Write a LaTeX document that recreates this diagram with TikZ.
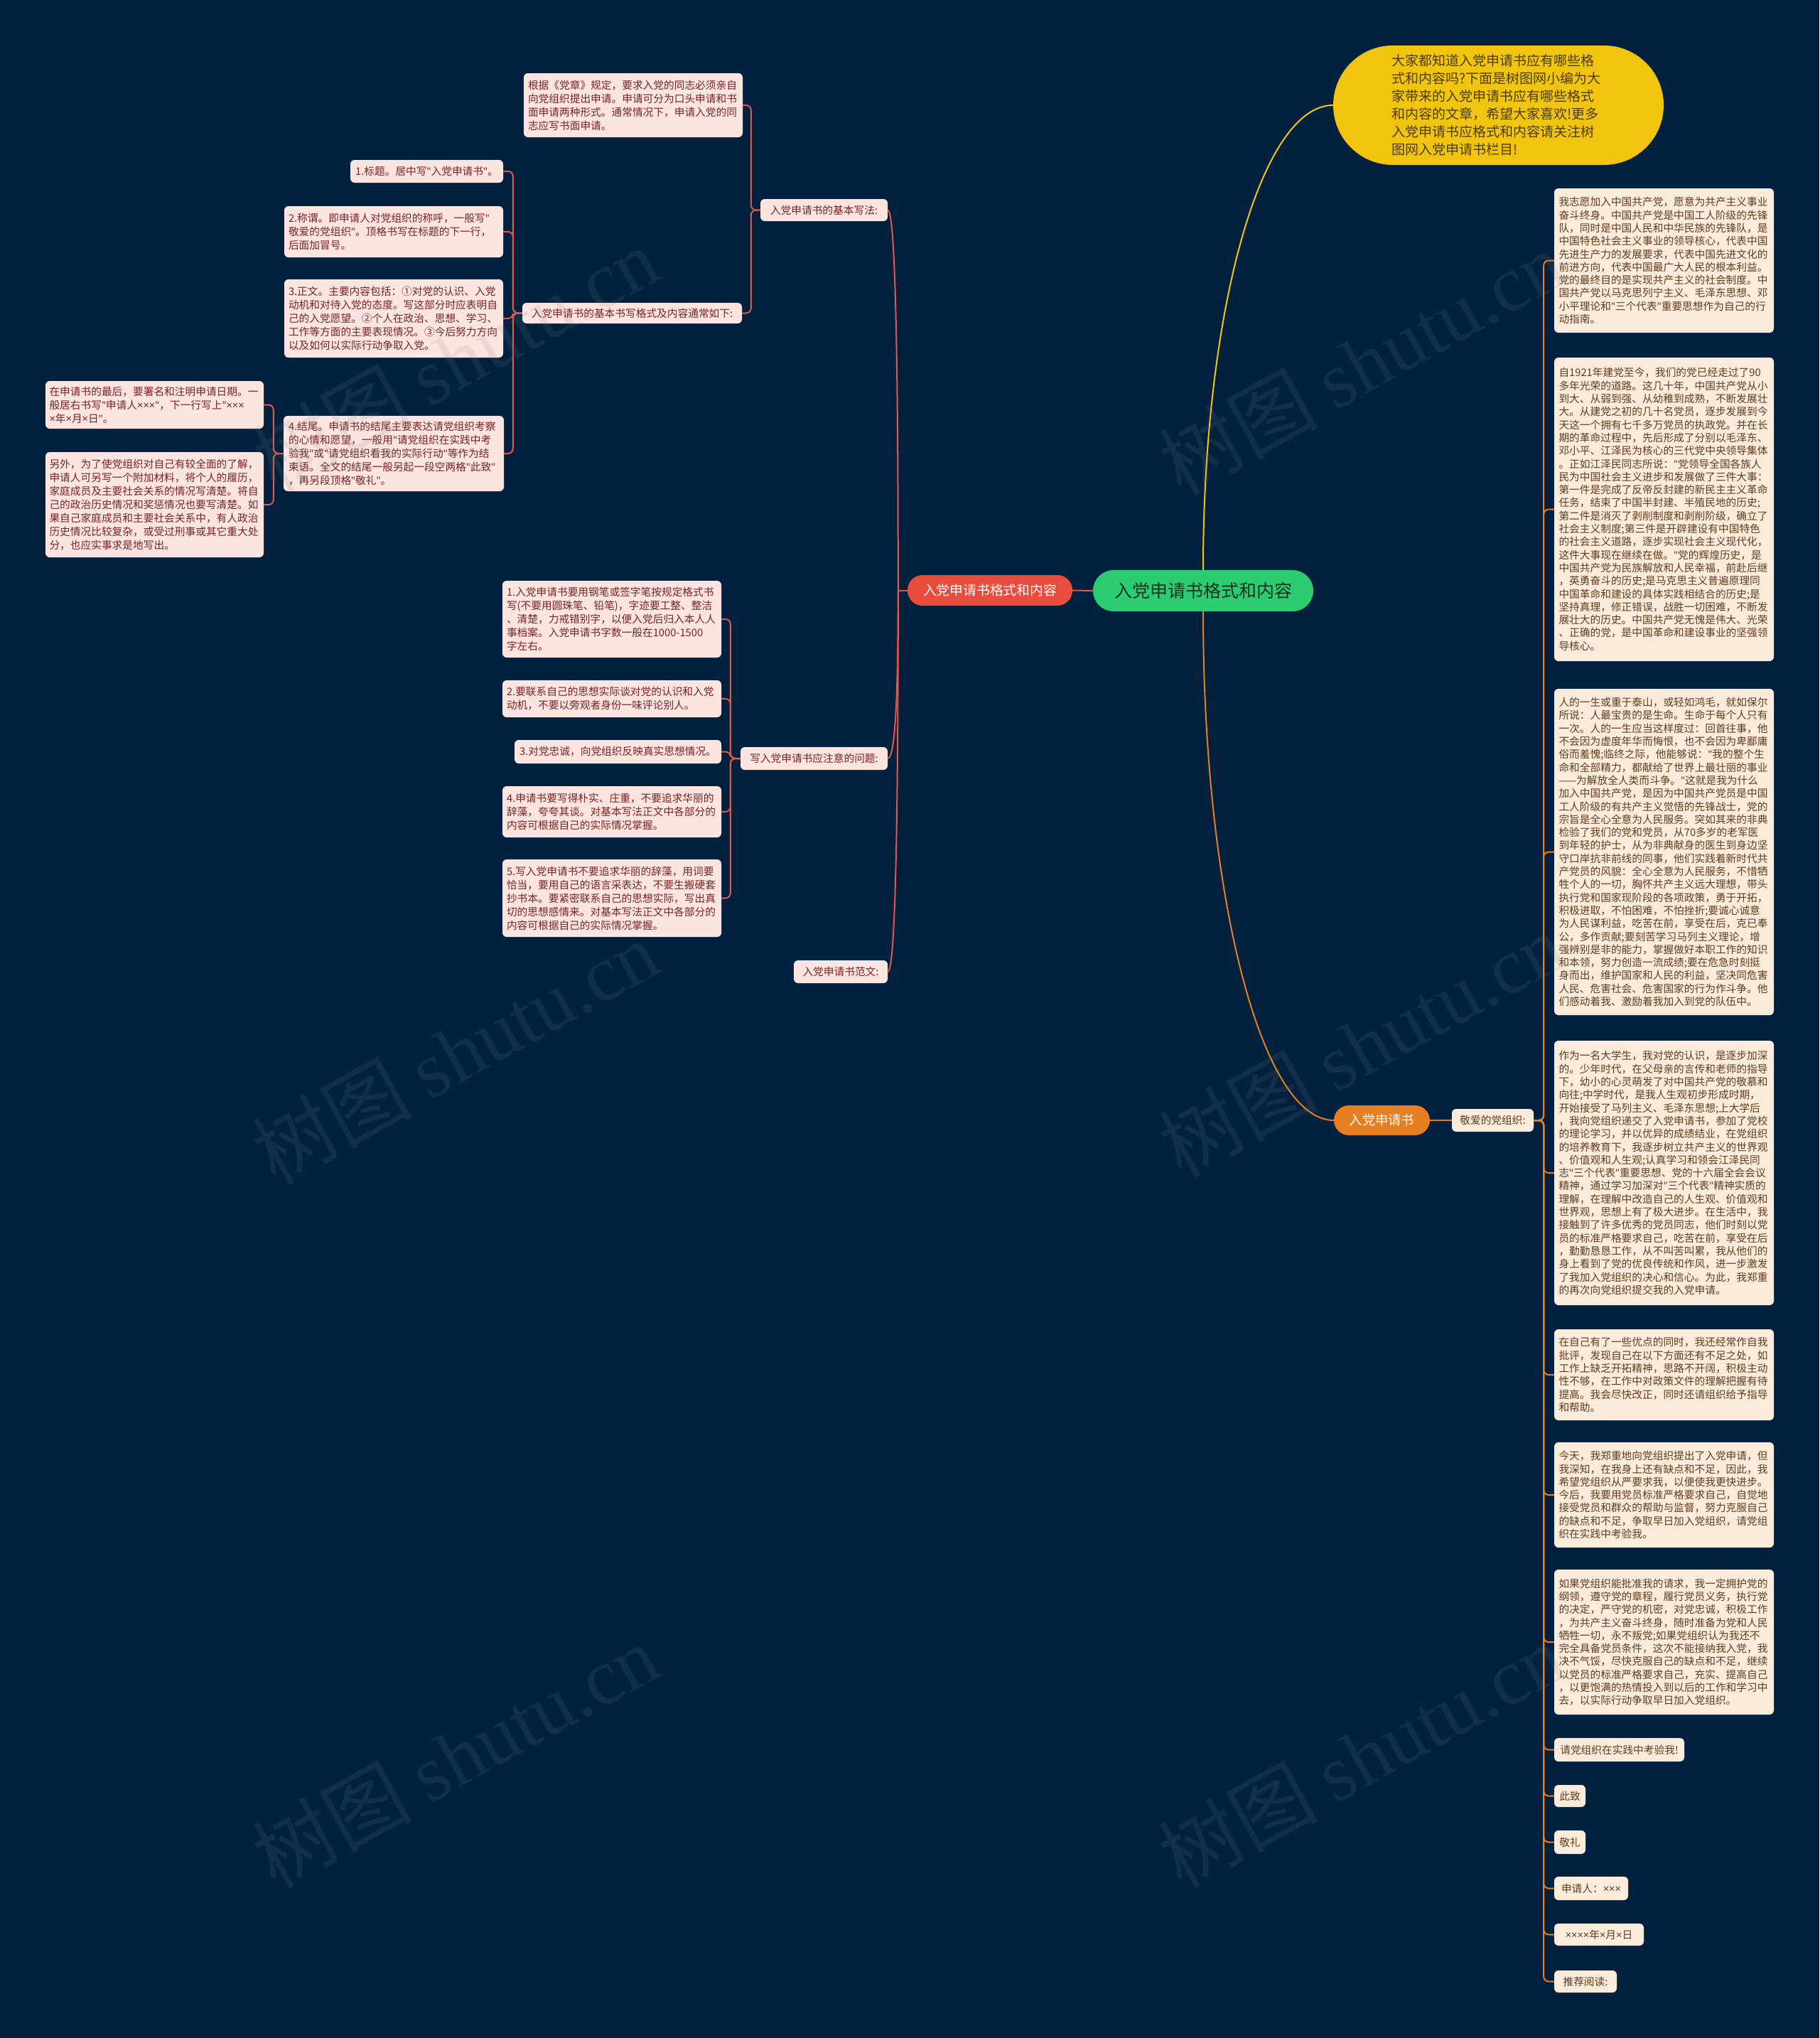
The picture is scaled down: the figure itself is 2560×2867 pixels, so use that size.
\documentclass[tikz,border=0pt]{standalone}
\usepackage{fontspec}
\setmainfont{Noto Sans CJK SC}
\newfontfamily\wmserif{Liberation Serif}
\newfontfamily\latf{Noto Sans}
\newcommand\qm{{\latf\symbol{34}}}
\newcommand\xx{{\latf ×}}
\definecolor{bg}{RGB}{2,33,63}
\definecolor{lfill}{RGB}{252,229,225}
\definecolor{ltext}{RGB}{120,35,35}
\definecolor{rfill}{RGB}{251,235,218}
\definecolor{rtext}{RGB}{95,60,30}
\definecolor{cred}{RGB}{231,76,60}
\definecolor{cgreen}{RGB}{46,204,113}
\definecolor{cyellow}{RGB}{241,196,15}
\definecolor{corange}{RGB}{230,126,34}
\definecolor{lred}{RGB}{226,88,76}
\definecolor{gtext}{RGB}{25,50,35}
\definecolor{ytext}{RGB}{75,60,10}
\tikzset{
  lbox/.style={fill=lfill, text=ltext, rounded corners=6pt, inner sep=0pt, align=left, font=\fontsize{14.7}{19}\selectfont},
  rbox/.style={fill=rfill, text=rtext, rounded corners=6pt, inner sep=0pt, align=left, font=\fontsize{14.7}{18.3}\selectfont},
  ltw/.style={text width=296pt},
  redline/.style={draw=lred, line width=2pt},
  oline/.style={draw=corange, line width=2pt},
  yline/.style={draw=cyellow, line width=2pt},
  wm/.style={text=gray, opacity=0.14, font=\fontsize{112}{112}\selectfont, rotate=29, inner sep=0pt}
}
\begin{document}
\begin{tikzpicture}[x=1pt,y=-1pt]
\useasboundingbox (0,0) rectangle (2560,2867);
\fill[bg] (0,0) rectangle (2560,2867);

% central nodes
\node[fill=cgreen, text=gtext, rounded corners=29pt, inner sep=0pt, minimum width=310pt, minimum height=58pt, font=\fontsize{25}{30}\selectfont] (green) at (1693,831) {入党申请书格式和内容};
\node[fill=cred, text=white, rounded corners=21pt, inner sep=0pt, minimum width=232pt, minimum height=43pt, font=\fontsize{18.8}{22}\selectfont] (red) at (1393,830.5) {入党申请书格式和内容};
\node[fill=cyellow, text=ytext, rounded corners=84pt, inner sep=0pt, minimum width=465pt, minimum height=168pt, text width=300pt, align=left, font=\fontsize{19}{25}\selectfont] (yellow) at (2108.5,148) {大家都知道入党申请书应有哪些格\\式和内容吗?下面是树图网小编为大\\家带来的入党申请书应有哪些格式\\和内容的文章，希望大家喜欢!更多\\入党申请书应格式和内容请关注树\\图网入党申请书栏目!};
\node[fill=corange, text=white, rounded corners=21pt, inner sep=0pt, minimum width=135pt, minimum height=42pt, font=\fontsize{18.3}{22}\selectfont] (orange) at (1944.5,1576) {入党申请书};
\node[rbox, minimum width=115pt, minimum height=32pt] (jing) at (2100.5,1576) {敬爱的党组织:};

% left subtree
\node[lbox, ltw, minimum width=308pt, minimum height=90pt] (L0) at (891,148) {根据《党章》规定，要求入党的同志必须亲自\\向党组织提出申请。申请可分为口头申请和书\\面申请两种形式。通常情况下，申请入党的同\\志应写书面申请。};
\node[lbox, minimum width=179pt, minimum height=31pt] (A1) at (1159.5,295.5) {入党申请书的基本写法:};
\node[lbox, minimum width=309pt, minimum height=29pt] (A2) at (889.5,440.5) {入党申请书的基本书写格式及内容通常如下:};
\node[lbox, minimum width=215pt, minimum height=32pt] (B1) at (600.5,241) {1.标题。居中写\qm{}入党申请书\qm{}。};
\node[lbox, ltw, minimum width=308pt, minimum height=72pt] (B2) at (554,326) {2.称谓。即申请人对党组织的称呼，一般写\qm{}\\敬爱的党组织\qm{}。顶格书写在标题的下一行，\\后面加冒号。};
\node[lbox, ltw, minimum width=308pt, minimum height=110pt] (B3) at (554,448) {3.正文。主要内容包括：①对党的认识、入党\\动机和对待入党的态度。写这部分时应表明自\\己的入党愿望。②个人在政治、思想、学习、\\工作等方面的主要表现情况。③今后努力方向\\以及如何以实际行动争取入党。};
\node[lbox, ltw, minimum width=310pt, minimum height=106pt] (B4) at (554,638) {4.结尾。申请书的结尾主要表达请党组织考察\\的心情和愿望，一般用\qm{}请党组织在实践中考\\验我\qm{}或\qm{}请党组织看我的实际行动\qm{}等作为结\\束语。全文的结尾一般另起一段空两格\qm{}此致\qm{}\\，再另段顶格\qm{}敬礼\qm{}。};
\node[lbox, ltw, minimum width=307pt, minimum height=67pt] (C1) at (217.5,569.5) {在申请书的最后，要署名和注明申请日期。一\\般居右书写\qm{}申请人\xx\xx\xx\qm{}，下一行写上\qm{}\xx\xx\xx\\\xx{}年\xx{}月\xx{}日\qm{}。};
\node[lbox, ltw, minimum width=307pt, minimum height=148pt] (C2) at (217.5,710) {另外，为了使党组织对自己有较全面的了解，\\申请人可另写一个附加材料，将个人的履历，\\家庭成员及主要社会关系的情况写清楚。将自\\己的政治历史情况和奖惩情况也要写清楚。如\\果自己家庭成员和主要社会关系中，有人政治\\历史情况比较复杂，或受过刑事或其它重大处\\分，也应实事求是地写出。};
\node[lbox, minimum width=207pt, minimum height=32pt] (W) at (1145.5,1067) {写入党申请书应注意的问题:};
\node[lbox, ltw, minimum width=308pt, minimum height=108pt] (D1) at (861,871) {1.入党申请书要用钢笔或签字笔按规定格式书\\写(不要用圆珠笔、铅笔)，字迹要工整、整洁\\、清楚，力戒错别字，以便入党后归入本人人\\事档案。入党申请书字数一般在1000-1500\\字左右。};
\node[lbox, ltw, minimum width=308pt, minimum height=52pt] (D2) at (861,983) {2.要联系自己的思想实际谈对党的认识和入党\\动机，不要以旁观者身份一味评论别人。};
\node[lbox, minimum width=291pt, minimum height=33pt] (D3) at (869.5,1057.5) {3.对党忠诚，向党组织反映真实思想情况。};
\node[lbox, ltw, minimum width=308pt, minimum height=72pt] (D4) at (861,1142) {4.申请书要写得朴实、庄重，不要追求华丽的\\辞藻，夸夸其谈。对基本写法正文中各部分的\\内容可根据自己的实际情况掌握。};
\node[lbox, ltw, minimum width=308pt, minimum height=109pt] (D5) at (861,1263.5) {5.写入党申请书不要追求华丽的辞藻，用词要\\恰当，要用自己的语言采表达，不要生搬硬套\\抄书本。要紧密联系自己的思想实际，写出真\\切的思想感情来。对基本写法正文中各部分的\\内容可根据自己的实际情况掌握。};
\node[lbox, minimum width=132pt, minimum height=32pt] (F) at (1183,1367) {入党申请书范文:};

% right column
\node[rbox, ltw, minimum width=309pt, minimum height=203pt] (R1) at (2341.5,366.5) {我志愿加入中国共产党，愿意为共产主义事业\\奋斗终身。中国共产党是中国工人阶级的先锋\\队，同时是中国人民和中华民族的先锋队，是\\中国特色社会主义事业的领导核心，代表中国\\先进生产力的发展要求，代表中国先进文化的\\前进方向，代表中国最广大人民的根本利益。\\党的最终目的是实现共产主义的社会制度。中\\国共产党以马克思列宁主义、毛泽东思想、邓\\小平理论和\qm{}三个代表\qm{}重要思想作为自己的行\\动指南。};
\node[rbox, ltw, minimum width=309pt, minimum height=427pt] (R2) at (2341.5,716.5) {自1921年建党至今，我们的党已经走过了90\\多年光荣的道路。这几十年，中国共产党从小\\到大、从弱到强、从幼稚到成熟，不断发展壮\\大。从建党之初的几十名党员，逐步发展到今\\天这一个拥有七千多万党员的执政党。并在长\\期的革命过程中，先后形成了分别以毛泽东、\\邓小平、江泽民为核心的三代党中央领导集体\\。正如江泽民同志所说：\qm{}党领导全国各族人\\民为中国社会主义进步和发展做了三件大事：\\第一件是完成了反帝反封建的新民主主义革命\\任务，结束了中国半封建、半殖民地的历史;\\第二件是消灭了剥削制度和剥削阶级，确立了\\社会主义制度;第三件是开辟建设有中国特色\\的社会主义道路，逐步实现社会主义现代化，\\这件大事现在继续在做。\qm{}党的辉煌历史，是\\中国共产党为民族解放和人民幸福，前赴后继\\，英勇奋斗的历史;是马克思主义普遍原理同\\中国革命和建设的具体实践相结合的历史;是\\坚持真理，修正错误，战胜一切困难，不断发\\展壮大的历史。中国共产党无愧是伟大、光荣\\、正确的党，是中国革命和建设事业的坚强领\\导核心。};
\node[rbox, ltw, minimum width=309pt, minimum height=459pt] (R3) at (2341.5,1198.5) {人的一生或重于泰山，或轻如鸿毛，就如保尔\\所说：人最宝贵的是生命。生命于每个人只有\\一次。人的一生应当这样度过：回首往事，他\\不会因为虚度年华而悔恨，也不会因为卑鄙庸\\俗而羞愧;临终之际，他能够说：\qm{}我的整个生\\命和全部精力，都献给了世界上最壮丽的事业\\——为解放全人类而斗争。\qm{}这就是我为什么\\加入中国共产党，是因为中国共产党员是中国\\工人阶级的有共产主义觉悟的先锋战士，党的\\宗旨是全心全意为人民服务。突如其来的非典\\检验了我们的党和党员，从70多岁的老军医\\到年轻的护士，从为非典献身的医生到身边坚\\守口岸抗非前线的同事，他们实践着新时代共\\产党员的风貌：全心全意为人民服务，不惜牺\\牲个人的一切，胸怀共产主义远大理想，带头\\执行党和国家现阶段的各项政策，勇于开拓，\\积极进取，不怕困难，不怕挫折;要诚心诚意\\为人民谋利益，吃苦在前，享受在后，克已奉\\公，多作贡献;要刻苦学习马列主义理论，增\\强辨别是非的能力，掌握做好本职工作的知识\\和本领，努力创造一流成绩;要在危急时刻挺\\身而出，维护国家和人民的利益，坚决同危害\\人民、危害社会、危害国家的行为作斗争。他\\们感动着我、激励着我加入到党的队伍中。};
\node[rbox, ltw, minimum width=309pt, minimum height=372pt] (R4) at (2341.5,1650) {作为一名大学生，我对党的认识，是逐步加深\\的。少年时代，在父母亲的言传和老师的指导\\下，幼小的心灵萌发了对中国共产党的敬慕和\\向往;中学时代，是我人生观初步形成时期，\\开始接受了马列主义、毛泽东思想;上大学后\\，我向党组织递交了入党申请书，参加了党校\\的理论学习，并以优异的成绩结业，在党组织\\的培养教育下，我逐步树立共产主义的世界观\\、价值观和人生观;认真学习和领会江泽民同\\志\qm{}三个代表\qm{}重要思想、党的十六届全会会议\\精神，通过学习加深对\qm{}三个代表\qm{}精神实质的\\理解，在理解中改造自己的人生观、价值观和\\世界观，思想上有了极大进步。在生活中，我\\接触到了许多优秀的党员同志，他们时刻以党\\员的标准严格要求自己，吃苦在前，享受在后\\，勤勤恳恳工作，从不叫苦叫累，我从他们的\\身上看到了党的优良传统和作风，进一步激发\\了我加入党组织的决心和信心。为此，我郑重\\的再次向党组织提交我的入党申请。};
\node[rbox, ltw, minimum width=309pt, minimum height=128pt] (R5) at (2341.5,1934) {在自己有了一些优点的同时，我还经常作自我\\批评，发现自己在以下方面还有不足之处，如\\工作上缺乏开拓精神，思路不开阔，积极主动\\性不够，在工作中对政策文件的理解把握有待\\提高。我会尽快改正，同时还请组织给予指导\\和帮助。};
\node[rbox, ltw, minimum width=309pt, minimum height=148pt] (R6) at (2341.5,2103) {今天，我郑重地向党组织提出了入党申请，但\\我深知，在我身上还有缺点和不足，因此，我\\希望党组织从严要求我，以便使我更快进步。\\今后，我要用党员标准严格要求自己，自觉地\\接受党员和群众的帮助与监督，努力克服自己\\的缺点和不足，争取早日加入党组织，请党组\\织在实践中考验我。};
\node[rbox, ltw, minimum width=309pt, minimum height=204pt] (R7) at (2341.5,2310) {如果党组织能批准我的请求，我一定拥护党的\\纲领，遵守党的章程，履行党员义务，执行党\\的决定，严守党的机密，对党忠诚，积极工作\\，为共产主义奋斗终身，随时准备为党和人民\\牺牲一切，永不叛党;如果党组织认为我还不\\完全具备党员条件，这次不能接纳我入党，我\\决不气馁，尽快克服自己的缺点和不足，继续\\以党员的标准严格要求自己，充实、提高自己\\，以更饱满的热情投入到以后的工作和学习中\\去，以实际行动争取早日加入党组织。};
\node[rbox, minimum width=183pt, minimum height=33pt] (R8) at (2278.5,2461.5) {请党组织在实践中考验我!};
\node[rbox, minimum width=44pt, minimum height=31pt] (R9) at (2209,2526.5) {此致};
\node[rbox, minimum width=44pt, minimum height=33pt] (R10) at (2209,2591.5) {敬礼};
\node[rbox, minimum width=104pt, minimum height=33pt] (R11) at (2239,2656.5) {申请人：\xx\xx\xx};
\node[rbox, minimum width=126pt, minimum height=31pt] (R12) at (2250,2721.5) {\xx\xx\xx\xx{}年\xx{}月\xx{}日};
\node[rbox, minimum width=88pt, minimum height=31pt] (R13) at (2231,2787.5) {推荐阅读:};

% connectors: center
\draw[redline] (green.west) -- (red.east);
\draw[yline] (green.north) .. controls +(0,-361) and +(-102,0) .. (yellow.west);
\draw[oline] (green.south) .. controls +(0,395) and +(-103,0) .. (orange.west);
\draw[oline] (orange.east) -- (jing.west);

% red node to its children
\draw[redline] (red.west) -- ++(-13,0) coordinate (rt);
\draw[redline] (rt) .. controls +(0,-268) and +(12,0) .. (A1.east);
\draw[redline] (rt) .. controls +(0,118) and +(12,0) .. (W.east);
\draw[redline] (rt) .. controls +(0,268) and +(12,0) .. (F.east);

% left subtrees
\foreach \c in {L0,A2} \draw[redline, rounded corners=7pt] (A1.west) -- ++(-13,0) |- (\c.east);
\foreach \c in {B1,B2,B3,B4} \draw[redline, rounded corners=7pt] (A2.west) -- ++(-13,0) |- (\c.east);
\foreach \c in {C1,C2} \draw[redline, rounded corners=7pt] (B4.west) -- ++(-14,0) |- (\c.east);
\foreach \c in {D1,D2,D3,D4,D5} \draw[redline, rounded corners=7pt] (W.west) -- ++(-14,0) |- (\c.east);

% right column
\foreach \c in {R1,R2,R3,R4,R5,R6,R7,R8,R9,R10,R11,R12,R13} \draw[oline, rounded corners=7pt] (jing.east) -- ++(14,0) |- (\c.west);

% watermarks
\foreach \p in {(640,505),(1915,510),(640,1480),(1915,1470),(640,2470),(1915,2470)}
  \node[wm] at \p {树图 {\wmserif shutu.cn}};
\end{tikzpicture}
\end{document}
